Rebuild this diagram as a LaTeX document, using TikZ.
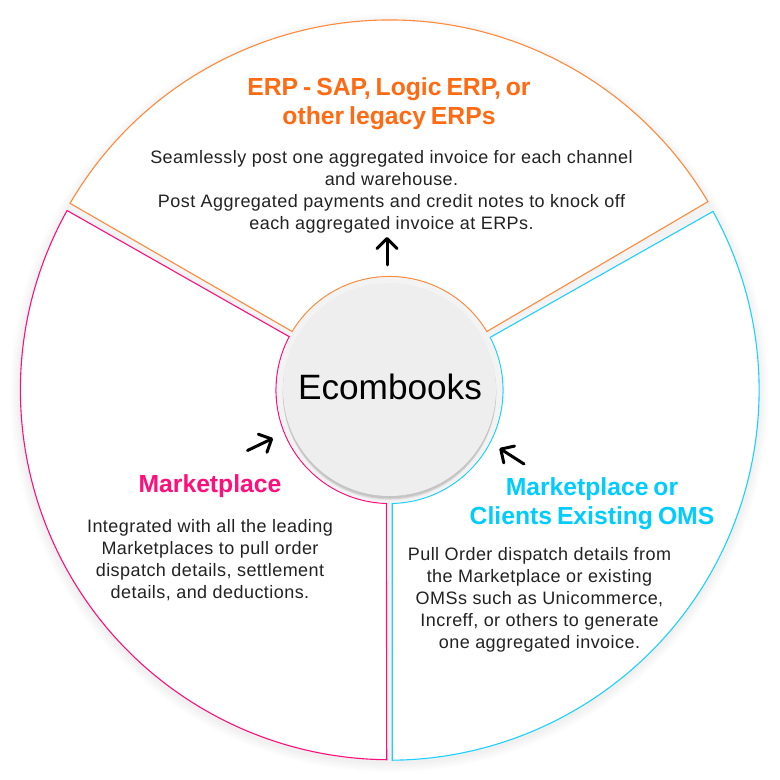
\documentclass[tikz,border=0pt]{standalone}
\usepackage{fontspec}
\setmainfont{Liberation Sans}
\newfontfamily\headfont[WordSpace=0.72]{Liberation Sans}
\usetikzlibrary{arrows.meta}
\definecolor{erpline}{HTML}{FF8A3C}
\definecolor{erptext}{HTML}{FF6A13}
\definecolor{mkt}{HTML}{FF0F7B}
\definecolor{oms}{HTML}{1FD0FF}
\definecolor{omstext}{HTML}{00CCFF}
\definecolor{gapgray}{HTML}{F3F3F3}
\definecolor{disc}{HTML}{EEEEEE}
\definecolor{body}{HTML}{222222}
\tikzset{
  x=1pt,y=1pt,
  sector/.style={fill=white,line width=1.1pt,line join=miter},
  headtext/.style={font=\headfont\fontsize{24.7}{29}\selectfont\bfseries,align=center,inner sep=0pt},
  bodytext/.style={font=\fontsize{18}{22}\selectfont\addfontfeature{LetterSpace=2.5},align=center,inner sep=0pt,text=body},
  pointer/.style={line width=3pt,black,line cap=round,-{Straight Barb[length=10pt,width=20pt,line width=3pt,round]}},
}
\begin{document}
\begin{tikzpicture}
\useasboundingbox (0,0) rectangle (780,780);
\fill[white] (0,0) rectangle (780,780);
\coordinate (C) at (389.5,390);
% soft outer shadow
\foreach \r in {379,377,375,373,371}{
  \fill[black,opacity=0.012] ([yshift=-3pt]C) circle (\r);
}
\fill[gapgray] (C) circle (370);
% top sector
\draw[sector,draw=erpline] ([shift={(149.7:370)}]C) arc (149.7:30.6:370)
  -- ([shift={(31:113.5)}]C) arc (31:149:113.5) -- cycle;
% left sector
\draw[sector,draw=mkt] ([shift={(150.9:369)}]C) arc (150.9:269.5:369.5)
  -- ([shift={(268.4:113.5)}]C) arc (268.4:152:113.5) -- cycle;
% right sector
\draw[sector,draw=oms] ([shift={(28.9:369.5)}]C) arc (28.9:-89.5:370)
  -- ([shift={(-88.6:113.5)}]C) arc (-88.6:27.6:113.5) -- cycle;
% hub
\fill[gapgray] (C) circle (112.8);
\foreach \s/\c in {3.5/0.05,2.5/0.07,1.5/0.08}{
  \fill[black,opacity=\c] ([yshift=-\s pt]C) circle (106.8);
}
\node[circle,fill=disc,minimum size=213pt,inner sep=0pt] (hub) at (389.5,390.5) {};
\node[inner sep=0pt,font=\fontsize{35.2}{40}\selectfont,anchor=base] (hubtext) at (390,380.5) {Ecombooks};
% top text
\node[headtext,text=erptext] (erphead) at (389,676.5) {ERP - SAP, Logic ERP, or\\other legacy ERPs};
\node[bodytext] (erpbody) at (391.5,588) {Seamlessly post one aggregated invoice for each channel\\and warehouse.\\Post Aggregated payments and credit notes to knock off\\each aggregated invoice at ERPs.};
% left text
\node[headtext,text=mkt] (mkthead) at (210,294) {Marketplace};
\node[bodytext] (mktbody) at (210,220) {Integrated with all the leading\\Marketplaces to pull order\\dispatch details, settlement\\details, and deductions.};
% right text
\node[headtext,text=omstext] (omshead) at (592,276) {Marketplace or\\Clients Existing OMS};
\node[bodytext] (omsbody) at (539.5,180) {Pull Order dispatch details from\\the Marketplace or existing\\OMSs such as Unicommerce,\\Increff, or others to generate\\one aggregated invoice.};
% arrows
\coordinate (a1s) at (387,515);
\coordinate (a1e) at (387,543);
\coordinate (a2s) at (247.5,329.5);
\coordinate (a2e) at (273,341.7);
\coordinate (a3s) at (524,316);
\coordinate (a3e) at (499.5,331.7);
\draw[pointer] (a1s) -- (a1e);
\draw[pointer] (a2s) -- (a2e);
\draw[pointer] (a3s) -- (a3e);
\end{tikzpicture}
\end{document}
